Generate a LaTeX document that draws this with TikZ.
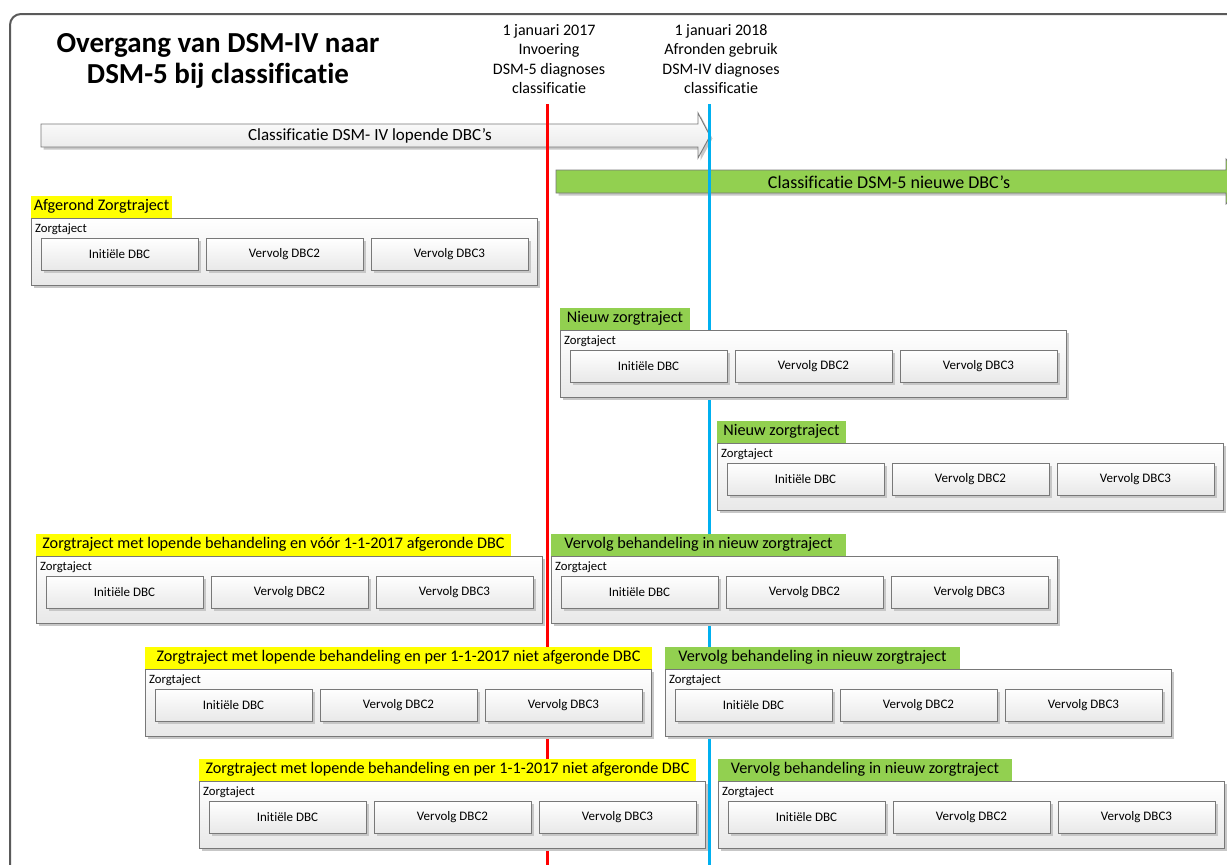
\documentclass[tikz,border=0pt]{standalone}
\usepackage{fontspec}
\setmainfont{Carlito}[Ligatures=NoCommon]
\usetikzlibrary{calc,shadows}

\definecolor{framec}{HTML}{5A5A5A}
\definecolor{edgec}{HTML}{787878}
\definecolor{labyellow}{HTML}{FFFF00}
\definecolor{labgreen}{HTML}{92D050}
\definecolor{linered}{HTML}{FF0000}
\definecolor{lineblue}{HTML}{00B0F0}

\tikzset{
  softshadow/.style={drop shadow={shadow xshift=2.5pt, shadow yshift=-2.5pt, fill=black!22, opacity=1}},
  outerbox/.style={draw=edgec, line width=0.9pt, top color=white, bottom color=black!9,
    minimum width=506pt, minimum height=67.5pt, inner sep=0pt, outer sep=0pt, softshadow},
  dbcbox/.style={draw=edgec, line width=0.9pt, top color=white, bottom color=black!9,
    minimum width=157pt, minimum height=32.5pt, inner sep=0pt, outer sep=0pt,
    font=\fontsize{13}{15}\selectfont, softshadow},
  smalltxt/.style={font=\fontsize{12.7}{15}\selectfont, inner sep=0pt},
  labtxt/.style={font=\fontsize{16.2}{19}\selectfont, minimum height=22pt, inner sep=0pt,
    outer sep=0pt, anchor=south west},
  datetxt/.style={font=\fontsize{16}{19.3}\selectfont, align=center, inner sep=0pt},
  timeline/.style={line width=3pt},
}

% care trajectory block: name, x, y of the top-left corner
\newcommand\zorgblok[3]{%
  \node[outerbox, anchor=north west] (#1) at (#2,#3) {};
  \node[smalltxt, anchor=west] (#1-t) at ($(#1.north west)+(4,11)$) {Zorgtaject};
  \node[dbcbox, anchor=north west] (#1-a) at ($(#1.north west)+(10,20)$) {Initiële DBC};
  \node[dbcbox, anchor=north west] (#1-b) at ($(#1.north west)+(175,20)$) {Vervolg DBC2};
  \node[dbcbox, anchor=north west] (#1-c) at ($(#1.north west)+(340,20)$) {Vervolg DBC3};
}

\begin{document}
\begin{tikzpicture}[x=1pt,y=-1pt]
\useasboundingbox (0,0) rectangle (1227,865);
\clip (0,0) rectangle (1227,865);

% outer frame
\draw[framec, line width=2pt, rounded corners=11pt] (10,900) -- (10,14) -- (1260,14);

% title
\node[font=\bfseries\fontsize{29}{31}\selectfont, align=center, inner sep=0pt] (title)
  at (218,60.5) {Overgang van DSM-IV naar\\DSM-5 bij classificatie};

% milestone captions
\node[datetxt] (d2017) at (549,59) {1 januari 2017\\Invoering\\DSM-5 diagnoses\\classificatie};
\node[datetxt] (d2018) at (721,59) {1 januari 2018\\Afronden gebruik\\DSM-IV diagnoses\\classificatie};

% classification periods
\draw[edgec, line width=0.9pt, top color=white, bottom color=black!10, softshadow]
  (41,124) -- (698,124) -- (698,113) -- (710,136) -- (698,158) -- (698,147) -- (41,147) -- cycle;
\node[font=\fontsize{17}{20}\selectfont, inner sep=0pt] (oldcls) at (370,136)
  {Classificatie DSM- IV lopende DBC’s};

\draw[edgec, line width=0.9pt, fill=labgreen, softshadow]
  (556,170) -- (1226,170) -- (1226,159) -- (1248,181.5) -- (1226,204) -- (1226,193) -- (556,193) -- cycle;
\node[font=\fontsize{18}{21}\selectfont, inner sep=0pt] (newcls) at (889,182)
  {Classificatie DSM-5 nieuwe DBC’s};

% milestone lines
\coordinate (r0) at (547,104);
\coordinate (r1) at (547,870);
\coordinate (b0) at (709,104);
\coordinate (b1) at (709,870);
\draw[timeline, linered] (r0) -- (r1);
\draw[timeline, lineblue] (b0) -- (b1);

% finished trajectory
\zorgblok{g1}{31}{218}
\node[labtxt, fill=labyellow, minimum width=141pt] (l1) at (31,217.5) {Afgerond Zorgtraject};

% new trajectories
\zorgblok{g2}{560}{330}
\node[labtxt, fill=labgreen, minimum width=130pt] (l2) at (560,329.5) {Nieuw zorgtraject};
\zorgblok{g3}{717}{443}
\node[labtxt, fill=labgreen, minimum width=129pt] (l3) at (717,442.5) {Nieuw zorgtraject};

% running treatment, DBC closed before 1-1-2017
\zorgblok{g4a}{36}{556}
\node[labtxt, fill=labyellow, minimum width=475pt] (l4a) at (36,555.5)
  {Zorgtraject met lopende behandeling en vóór 1-1-2017 afgeronde DBC};
\zorgblok{g4b}{551}{556}
\node[labtxt, fill=labgreen, minimum width=295pt] (l4b) at (551,555.5)
  {Vervolg behandeling in nieuw zorgtraject};

% running treatment, DBC still open on 1-1-2017
\zorgblok{g5a}{145}{669}
\node[labtxt, fill=labyellow, minimum width=507pt] (l5a) at (145,668.5)
  {Zorgtraject met lopende behandeling en per 1-1-2017 niet afgeronde DBC};
\zorgblok{g5b}{665}{669}
\node[labtxt, fill=labgreen, minimum width=295pt] (l5b) at (665,668.5)
  {Vervolg behandeling in nieuw zorgtraject};

\zorgblok{g6a}{199}{781}
\node[labtxt, fill=labyellow, minimum width=497pt] (l6a) at (199,780.5)
  {Zorgtraject met lopende behandeling en per 1-1-2017 niet afgeronde DBC};
\zorgblok{g6b}{718}{781}
\node[labtxt, fill=labgreen, minimum width=294pt] (l6b) at (718,780.5)
  {Vervolg behandeling in nieuw zorgtraject};
\end{tikzpicture}
\end{document}
